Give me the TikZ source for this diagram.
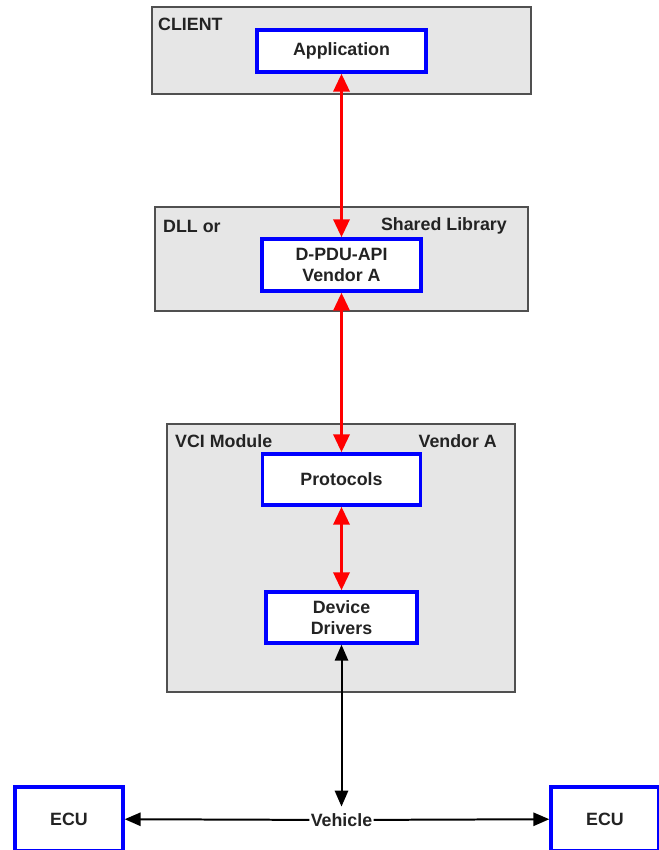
\documentclass[tikz,border=0pt]{standalone}
\usepackage{fontspec}
\setmainfont{Liberation Sans}
\usetikzlibrary{arrows.meta,positioning}
\definecolor{PanelGray}{RGB}{230,230,230}
\definecolor{PanelEdge}{RGB}{80,80,80}
\definecolor{UnitBlue}{RGB}{0,0,255}
\definecolor{TextDark}{RGB}{35,35,35}
\tikzset{
  panel/.style={draw=PanelEdge, fill=PanelGray, line width=1.4pt, inner sep=0pt},
  unit/.style={draw=UnitBlue, fill=white, line width=2.9pt, align=center, inner sep=0pt,
    text=TextDark, font=\bfseries\fontsize{15.2}{17.5}\selectfont},
  tag/.style={inner sep=0pt, text=TextDark, font=\bfseries\fontsize{15.2}{17.5}\selectfont},
  redlink/.style={draw=red, line width=2.9pt,
    {Triangle[width=0.48cm,length=0.54cm]}-{Triangle[width=0.48cm,length=0.54cm]}},
  blktip/.style={Triangle[width=0.4cm,length=0.48cm]},
  blklink/.style={line width=1.7pt, -{Triangle[width=0.4cm,length=0.48cm]}}
}
\begin{document}
\begin{tikzpicture}[x=0.03cm,y=-0.03cm]
  \useasboundingbox (0,0) rectangle (658,850);
  %% Client side
  \node[panel, minimum width=11.37cm, minimum height=2.61cm] (client) at (341.5,50.5) {};
  \node[tag, anchor=west] (clienttag) at (158,24) {CLIENT};
  \node[unit, minimum width=5.07cm, minimum height=1.26cm] (app) at (341.5,51) {Application};
  %% DLL
  \node[panel, minimum width=11.19cm, minimum height=3.12cm] (dll) at (341.5,259) {};
  \node[tag, anchor=west] (dlltag) at (163,226) {DLL or};
  \node[tag, anchor=east] (libtag) at (507,226) {Shared Library};
  \node[unit, minimum width=4.77cm, minimum height=1.56cm] (api) at (341.5,265) {D-PDU-API\\Vendor A};
  %% VCI
  \node[panel, minimum width=10.44cm, minimum height=8.04cm] (vci) at (341,558) {};
  \node[tag, anchor=west] (vcitag) at (175,441) {VCI Module};
  \node[tag, anchor=east] (vendortag) at (497,441) {Vendor A};
  \node[unit, minimum width=4.74cm, minimum height=1.53cm] (proto) at (341.5,479.5) {Protocols};
  \node[unit, minimum width=4.53cm, minimum height=1.53cm] (drv) at (341.5,617.5) {Device\\Drivers};
  %% Vehicle
  \node[unit, minimum width=3.24cm, minimum height=1.92cm] (ecuL) at (69,819) {ECU};
  \node[unit, minimum width=3.24cm, minimum height=1.92cm] (ecuR) at (605,819) {ECU};
  \node[tag, fill=white, inner xsep=1pt] (veh) at (341.5,820) {Vehicle};
  %% links
  \draw[redlink] (app) -- (api);
  \draw[redlink] (api) -- (proto);
  \draw[redlink] (proto) -- (drv);
  \draw[blklink, {Triangle[width=0.4cm,length=0.48cm]}-{Triangle[width=0.4cm,length=0.48cm]}, shorten >=0.2cm] (drv) -- (veh);
  \draw[blklink] (veh) -- (ecuL);
  \draw[blklink] (veh) -- (ecuR);
\end{tikzpicture}
\end{document}
